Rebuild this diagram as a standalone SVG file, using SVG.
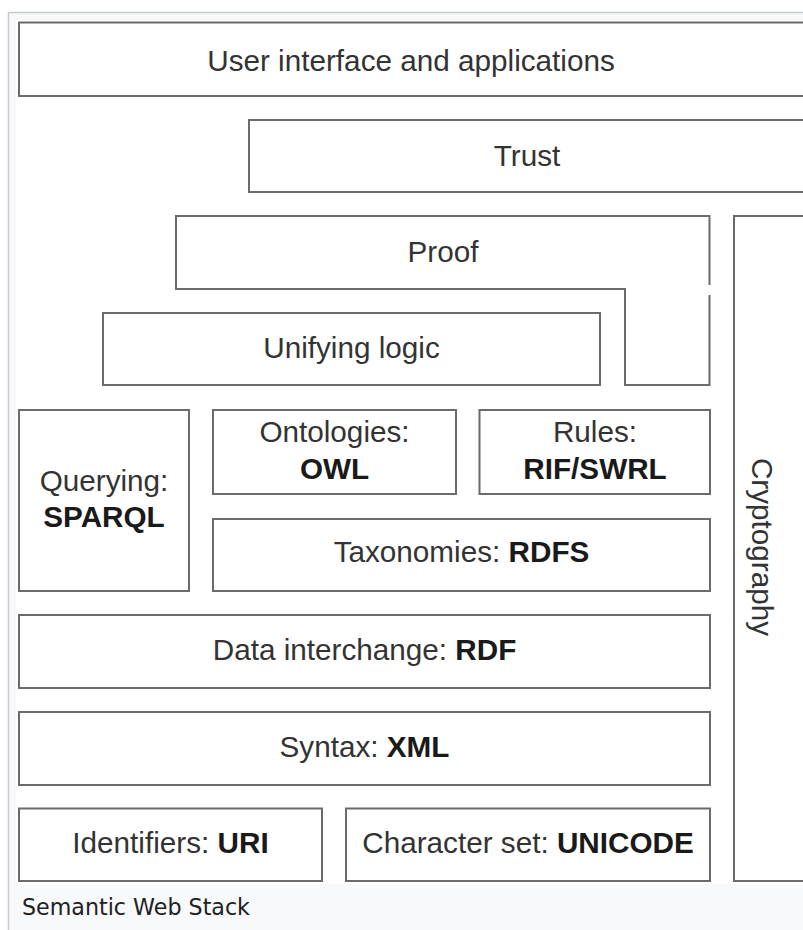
<svg xmlns="http://www.w3.org/2000/svg" width="803" height="930" viewBox="0 0 803 930">
  <style>
    .box { fill: #ffffff; stroke: #6b6b6b; stroke-width: 2; }
    .fill { fill: #ffffff; stroke: none; }
    .edge { fill: none; stroke: #6b6b6b; stroke-width: 2; }
    .lbl { font-family: "Liberation Sans", Arial, sans-serif; font-size: 29.7px; fill: #333333; text-anchor: middle; }
    .b { font-weight: bold; fill: #1a1a1a; }
    .cap { font-family: "DejaVu Sans", sans-serif; font-size: 22.2px; fill: #202122; }
  </style>

  <!-- thumbnail frame and image area -->
  <rect x="8.5" y="12.5" width="800" height="930" fill="#f8f9fa" stroke="#c8ccd1" stroke-width="1.5"/>
  <rect x="16" y="20" width="800" height="864" fill="#ffffff"/>

  <g id="ui">
    <rect class="box" x="19" y="22.5" width="800" height="73.5"/>
    <text class="lbl" x="411" y="71">User interface and applications</text>
  </g>

  <g id="trust">
    <rect class="box" x="249" y="120" width="580" height="72"/>
    <text class="lbl" x="527" y="166">Trust</text>
  </g>

  <g id="proof">
    <!-- L-shaped layer; outline has a short break on the right edge -->
    <path class="fill" d="M176,216 H709.5 V385 H625 V289 H176 Z"/>
    <path class="edge" d="M709.5,285 V216 H176 V289 H625 V385 H709.5 V295"/>
    <text class="lbl" x="443" y="262">Proof</text>
  </g>

  <g id="unifying-logic">
    <rect class="box" x="103" y="313" width="497" height="72"/>
    <text class="lbl" x="351.5" y="358">Unifying logic</text>
  </g>

  <g id="cryptography">
    <rect class="box" x="734" y="216" width="100" height="665"/>
    <text class="lbl" x="752" y="547" transform="rotate(90 752 547)">Cryptography</text>
  </g>

  <g id="querying">
    <rect class="box" x="19" y="410" width="170" height="181"/>
    <text class="lbl" x="104" y="491">Querying:</text>
    <text class="lbl b" x="104" y="527">SPARQL</text>
  </g>

  <g id="ontologies">
    <rect class="box" x="213" y="410" width="243" height="84"/>
    <text class="lbl" x="334.5" y="442">Ontologies:</text>
    <text class="lbl b" x="334.5" y="479">OWL</text>
  </g>

  <g id="rules">
    <rect class="box" x="479.5" y="410" width="230.5" height="84"/>
    <text class="lbl" x="595" y="442">Rules:</text>
    <text class="lbl b" x="595" y="479">RIF/SWRL</text>
  </g>

  <g id="taxonomies">
    <rect class="box" x="213" y="519" width="497" height="72"/>
    <text class="lbl" x="461.5" y="562">Taxonomies: <tspan class="b">RDFS</tspan></text>
  </g>

  <g id="data-interchange">
    <rect class="box" x="19" y="615" width="691" height="73"/>
    <text class="lbl" x="364.5" y="660">Data interchange: <tspan class="b">RDF</tspan></text>
  </g>

  <g id="syntax">
    <rect class="box" x="19" y="712" width="691" height="73"/>
    <text class="lbl" x="364.5" y="757">Syntax: <tspan class="b">XML</tspan></text>
  </g>

  <g id="identifiers">
    <rect class="box" x="19" y="808.5" width="303" height="72.5"/>
    <text class="lbl" x="170.5" y="853">Identifiers: <tspan class="b">URI</tspan></text>
  </g>

  <g id="character-set">
    <rect class="box" x="346" y="808.5" width="364" height="72.5"/>
    <text class="lbl" x="528" y="853">Character set: <tspan class="b">UNICODE</tspan></text>
  </g>

  <g id="connectors"></g>

  <text class="cap" x="22" y="915">Semantic Web Stack</text>
</svg>
